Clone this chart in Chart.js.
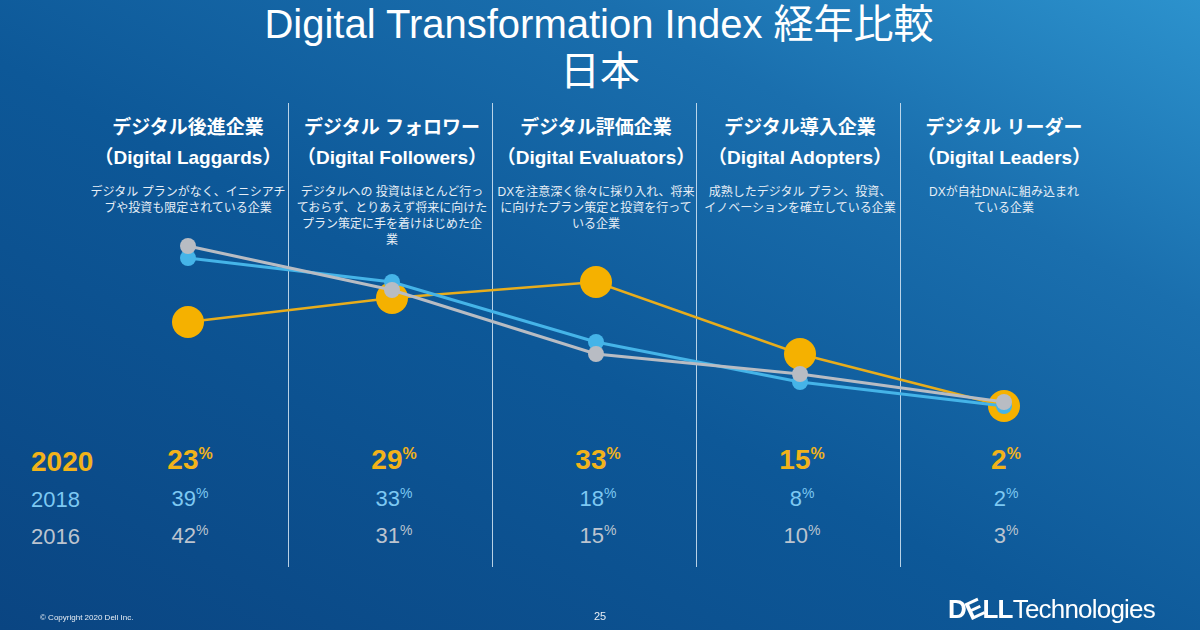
<!DOCTYPE html>
<html>
<head>
<meta charset="utf-8">
<script src="https://cdn.jsdelivr.net/npm/chart.js@4"></script>
<style>
  html, body { margin: 0; padding: 0; }
  body {
    width: 1200px; height: 630px; overflow: hidden; position: relative;
    font-family: "Liberation Sans", Arial, "Noto Sans CJK JP", sans-serif;
    background: linear-gradient(to top right, #0a4582 0%, #0d5898 45%, #1a6fae 75%, #2c92cd 100%);
    color: #fff;
  }
  .abs { position: absolute; white-space: nowrap; }
  .c { transform: translate(-50%, -50%); text-align: center; }
  .title { font-size: 40px; line-height: 46px; }
  .hd { font-size: 19px; font-weight: bold; line-height: 24px; }
  .desc { font-size: 12px; line-height: 16px; color: #e6eef6; white-space: pre-line; transform: translateX(-50%); text-align: center; }
  .div { position: absolute; top: 103px; height: 464px; width: 1px; background: rgba(215,232,244,0.85); }
  .yr { font-size: 22px; line-height: 26px; transform: translateY(-50%); }
  .val { font-size: 22px; line-height: 26px; }
  .val sup { font-size: 14px; vertical-align: 0; position: relative; top: -8px; }
  .y20 { color: #f2b31a; font-weight: bold; font-size: 28px; line-height: 30px; }
  .y20 sup { font-size: 16px; top: -10px; }
  .y18 { color: #7dc8f2; }
  .y16 { color: #bcc4cf; }
  #chart { position: absolute; left: 0; top: 0; }
</style>
</head>
<body>
<div class="abs c title" style="left:599px; top:24px;">Digital Transformation Index 経年比較</div>
<div class="abs c title" style="left:600px; top:71px;">日本</div>
<div id="cols"></div>
<canvas id="chart" width="1200" height="630"></canvas>
<div class="abs" style="left:40px; top:613px; font-size:8px; color:#e8eef5;">© Copyright 2020 Dell Inc.</div>
<div class="abs c" style="left:600px; top:616px; font-size:11px; color:#e8eef5;">25</div>
<div class="abs" style="left:948px; top:594px; font-size:26px; line-height:30px; color:#fff; letter-spacing:-0.8px;">
  <span style="font-weight:bold;">D<span style="display:inline-block; transform:rotate(-25deg);">E</span>LL</span><span style="font-weight:300;">Technologies</span>
</div>
<script>
const categories = ['デジタル後進企業', 'デジタル フォロワー', 'デジタル評価企業', 'デジタル導入企業', 'デジタル リーダー'];
const englishNames = ['（Digital Laggards）', '（Digital Followers）', '（Digital Evaluators）', '（Digital Adopters）', '（Digital Leaders）'];
const descriptions = [
  'デジタル プランがなく、イニシアチ\nブや投資も限定されている企業',
  'デジタルへの 投資はほとんど行っ\nておらず、とりあえず将来に向けた\nプラン策定に手を着けはじめた企\n業',
  'DXを注意深く徐々に採り入れ、将来\nに向けたプラン策定と投資を行って\nいる企業',
  '成熟したデジタル プラン、投資、\nイノベーションを確立している企業',
  'DXが自社DNAに組み込まれ\nている企業'
];
const years = ['2020', '2018', '2016'];
const values2020 = [23, 29, 33, 15, 2];
const values2018 = [39, 33, 18, 8, 2];
const values2016 = [42, 31, 15, 10, 3];

const colX = [188, 392, 596, 800, 1004];
const cols = document.getElementById('cols');
let html = '';
categories.forEach((name, i) => {
  const x = colX[i];
  html += `<div class="abs c hd" style="left:${x}px; top:128px;">${name}</div>`;
  html += `<div class="abs c hd" style="left:${x}px; top:158px;">${englishNames[i]}</div>`;
  html += `<div class="abs desc" style="left:${x}px; top:184px;">${descriptions[i]}</div>`;
  if (i < categories.length - 1) html += `<div class="div" style="left:${x + 100}px;"></div>`;
});
const rows = [[values2020, 'y20', 462], [values2018, 'y18', 500], [values2016, 'y16', 537]];
rows.forEach(([vals, cls, y], r) => {
  html += `<div class="abs yr ${cls}" style="left:31px; top:${y}px;">${years[r]}</div>`;
  vals.forEach((v, i) => {
    html += `<div class="abs c val ${cls}" style="left:${colX[i] + 2}px; top:${y}px;">${v}<sup>%</sup></div>`;
  });
});
cols.innerHTML = html;

new Chart(document.getElementById('chart'), {
  type: 'line',
  data: {
    labels: categories,
    datasets: [
      {
        label: years[2], data: values2016, order: 0,
        borderColor: '#b8bcc3', backgroundColor: '#b8bcc3', borderWidth: 3,
        pointRadius: 8, pointBorderWidth: 0, clip: false
      },
      {
        label: years[1], data: values2018, order: 1,
        borderColor: '#45b4e8', backgroundColor: '#45b4e8', borderWidth: 3,
        pointRadius: 8, pointBorderWidth: 0, clip: false
      },
      {
        label: years[0], data: values2020, order: 2,
        borderColor: '#e8ad1c', backgroundColor: '#f5b100', borderWidth: 2.5,
        pointRadius: 16, pointBorderWidth: 0, clip: false
      }
    ]
  },
  options: {
    responsive: false,
    animation: false,
    layout: { padding: { left: 188, right: 196, top: 214, bottom: 216 } },
    scales: {
      x: { display: false, offset: false },
      y: { display: false, min: 0, max: 50 }
    },
    elements: { line: { tension: 0 } },
    plugins: {
      legend: { display: false },
      tooltip: { enabled: false }
    }
  }
});
</script>
</body>
</html>
